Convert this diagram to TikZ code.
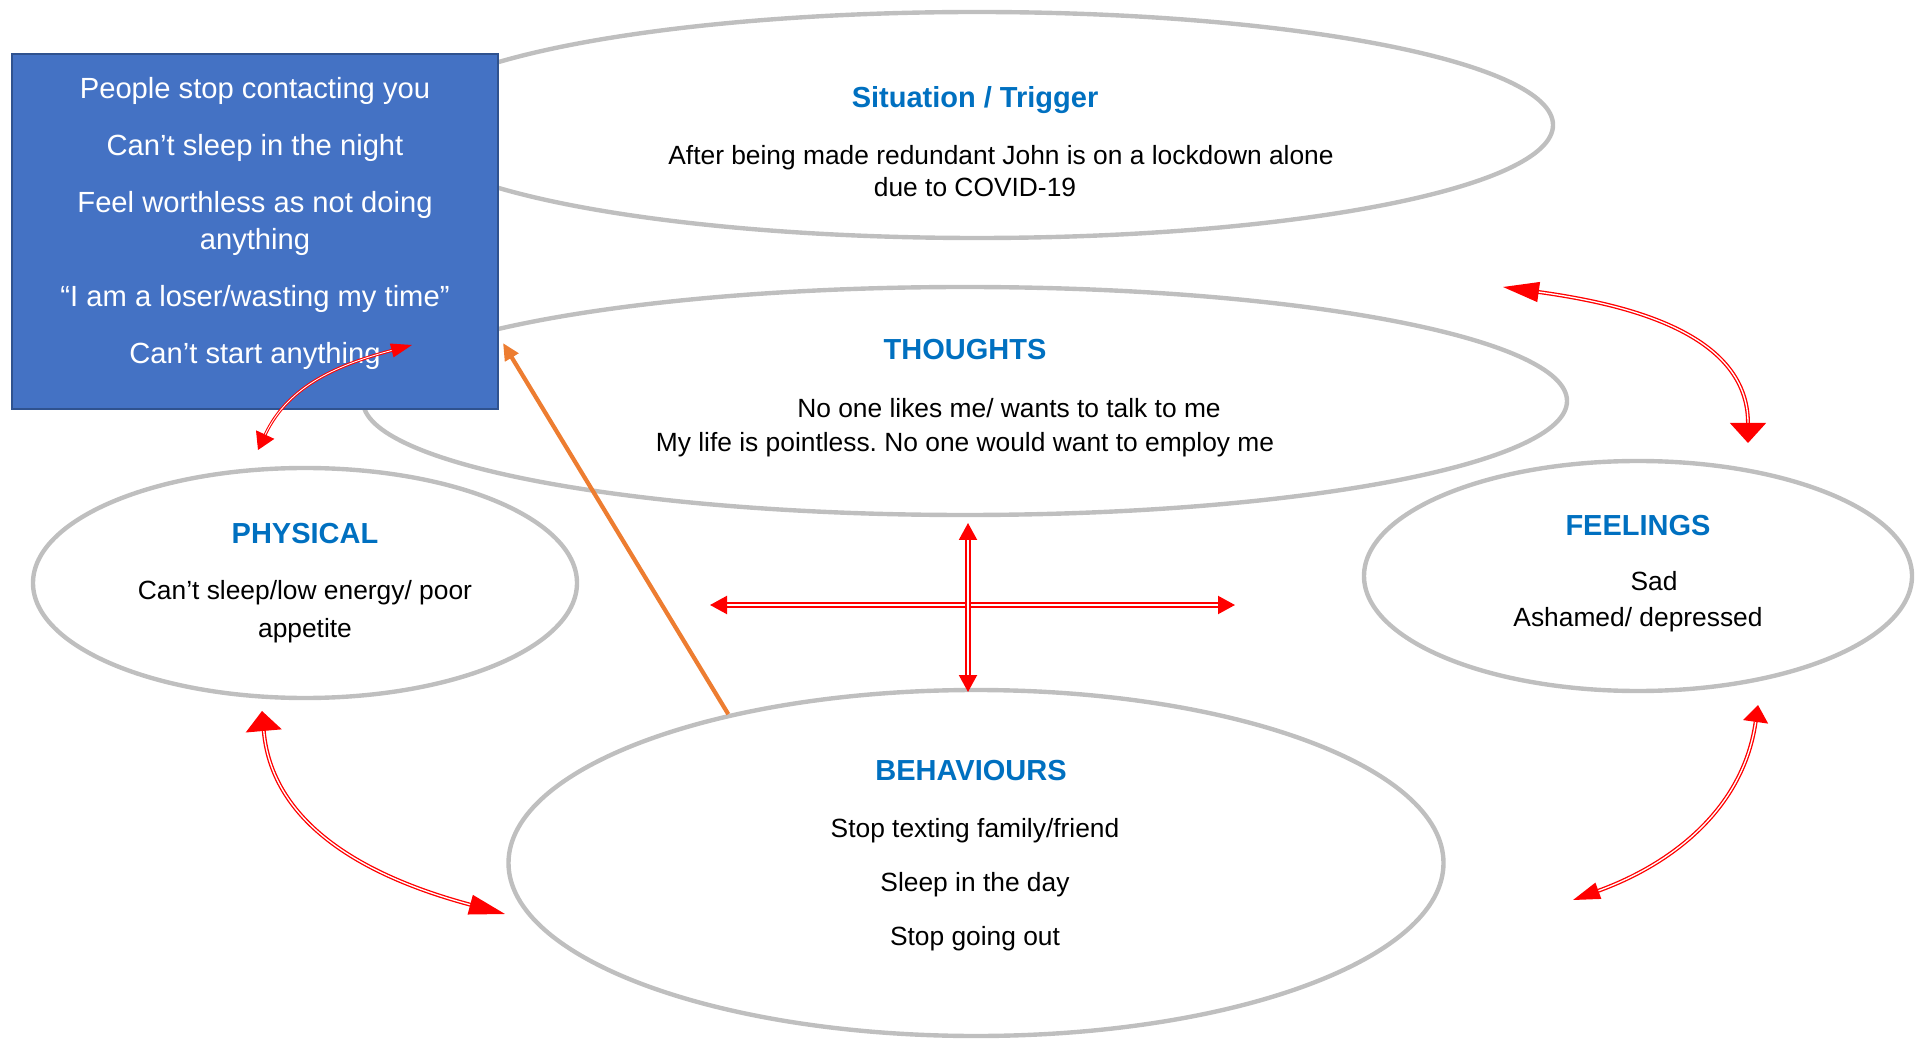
\documentclass[tikz,border=0pt]{standalone}
\usepackage{fontspec}
\setmainfont{Liberation Sans}
\usetikzlibrary{shapes.geometric,arrows.meta}
\definecolor{bubblegray}{HTML}{BFBFBF}
\definecolor{titleblue}{HTML}{0070C0}
\definecolor{boxblue}{HTML}{4472C4}
\definecolor{boxedge}{HTML}{2F528F}
\definecolor{linkorange}{HTML}{ED7D31}
\tikzset{
  vhead/.tip={Triangle[length=0.4cm,width=0.72cm]},
  hhead/.tip={Triangle[length=0.72cm,width=0.4cm]},
  shead/.tip={Triangle[length=0.34cm,width=0.36cm]},
}
\frenchspacing
\begin{document}
\begin{tikzpicture}[
    bubble/.style={ellipse, draw=bubblegray, line width=2.5pt, inner sep=0pt},
    title/.style={font=\fontsize{16.5}{20}\selectfont\bfseries, text=titleblue},
    body/.style={font=\fontsize{15}{18.2}\selectfont, align=center},
    twoway/.style={draw=red, double=white, line width=0.75pt, double distance=0.75pt},
  ]
    \useasboundingbox (0,0) rectangle (38.3,20.8);

    % Bubbles
    \node[bubble, minimum width=23.04cm, minimum height=4.52cm] (sit) at (19.54,18.30) {};
    \node[bubble, minimum width=24.08cm, minimum height=4.56cm] (tho) at (19.30,12.78) {};
    \node[bubble, minimum width=10.88cm, minimum height=4.60cm] (phy) at (6.10,9.14) {};
    \node[bubble, minimum width=10.96cm, minimum height=4.60cm] (fee) at (32.76,9.28) {};
    \node[bubble, minimum width=18.70cm, minimum height=6.92cm] (beh) at (19.52,3.54) {};

    % Blue box
    \node[draw=boxedge, fill=boxblue, line width=1.2pt, minimum width=9.72cm, minimum height=7.10cm] (box) at (5.10,16.17) {};
    \node[text=white, align=center, font=\fontsize{16.6}{21}\selectfont] (boxtxt) at (5.10,16.33)
      {People stop contacting you\\[11.4pt] Can’t sleep in the night\\[11.4pt] Feel worthless as not doing\\ anything\\[11.4pt]
       “I am a loser/wasting my time”\\[11.4pt] Can’t start anything};

    % Texts
    \node[title] (sitT) at (19.50,18.80) {Situation / Trigger};
    \node[body] (sitB) at (19.50,17.38) {\hspace*{1.04cm}After being made redundant John is on a lockdown alone\\ due to COVID-19};
    \node[title] (thoT) at (19.30,13.80) {THOUGHTS};
    \node[body] (thoB) at (19.30,12.24) {\hspace*{1.76cm}No one likes me/ wants to talk to me\\[1.2pt] My life is pointless. No one would want to employ me};
    \node[title] (phyT) at (6.10,10.12) {PHYSICAL};
    \node[body] (phyB) at (6.10,8.57) {Can’t sleep/low energy/ poor\\[3.4pt] appetite};
    \node[title] (feeT) at (32.76,10.29) {FEELINGS};
    \node[body] (feeB) at (32.76,8.77) {\hspace*{0.64cm}Sad\\[2.3pt] Ashamed/ depressed};
    \node[title] (behT) at (19.42,5.38) {BEHAVIOURS};
    \node[body] (behB) at (19.50,3.11) {Stop texting family/friend\\[12.5pt] Sleep in the day\\[12.5pt] Stop going out};

    % Arrow ends
    \coordinate (a1) at (30.06,15.06); \coordinate (a2) at (34.96,11.94);
    \coordinate (b1) at (5.16,11.80);  \coordinate (b2) at (8.24,13.90);
    \coordinate (h1) at (14.20,8.70);  \coordinate (h2) at (24.70,8.70);
    \coordinate (v1) at (19.36,10.34); \coordinate (v2) at (19.36,6.96);
    \coordinate (c1) at (5.24,6.58);   \coordinate (c2) at (10.10,2.52);
    \coordinate (d1) at (35.16,6.70);  \coordinate (d2) at (31.46,2.80);
    \coordinate (o2) at (10.06,13.94);

    % Links
    \draw[linkorange, line width=2.4pt, -{Triangle[length=0.34cm,width=0.3cm]}] (beh.149) -- (o2);
    \draw[twoway, {hhead}-{vhead}] (a1) to[out=-8, in=90] (a2);
    \draw[twoway, line width=0.6pt, double distance=0.5pt, {Triangle[length=0.34cm,width=0.4cm]}-{Triangle[length=0.42cm,width=0.28cm]}] (b1) to[out=65, in=195] (b2);
    \draw[twoway, line width=1.2pt, double distance=1.1pt, {shead}-{shead}] (h1) -- (h2);
    \draw[twoway, line width=1.2pt, double distance=1.1pt, {shead}-{shead}] (v1) -- (v2);
    \draw[twoway, {vhead}-{hhead}] (c1) to[out=-85, in=165] (c2);
    \draw[twoway, {Triangle[length=0.34cm,width=0.5cm]}-{Triangle[length=0.54cm,width=0.34cm]}] (d1) to[out=-98, in=20] (d2);
\end{tikzpicture}
\end{document}
